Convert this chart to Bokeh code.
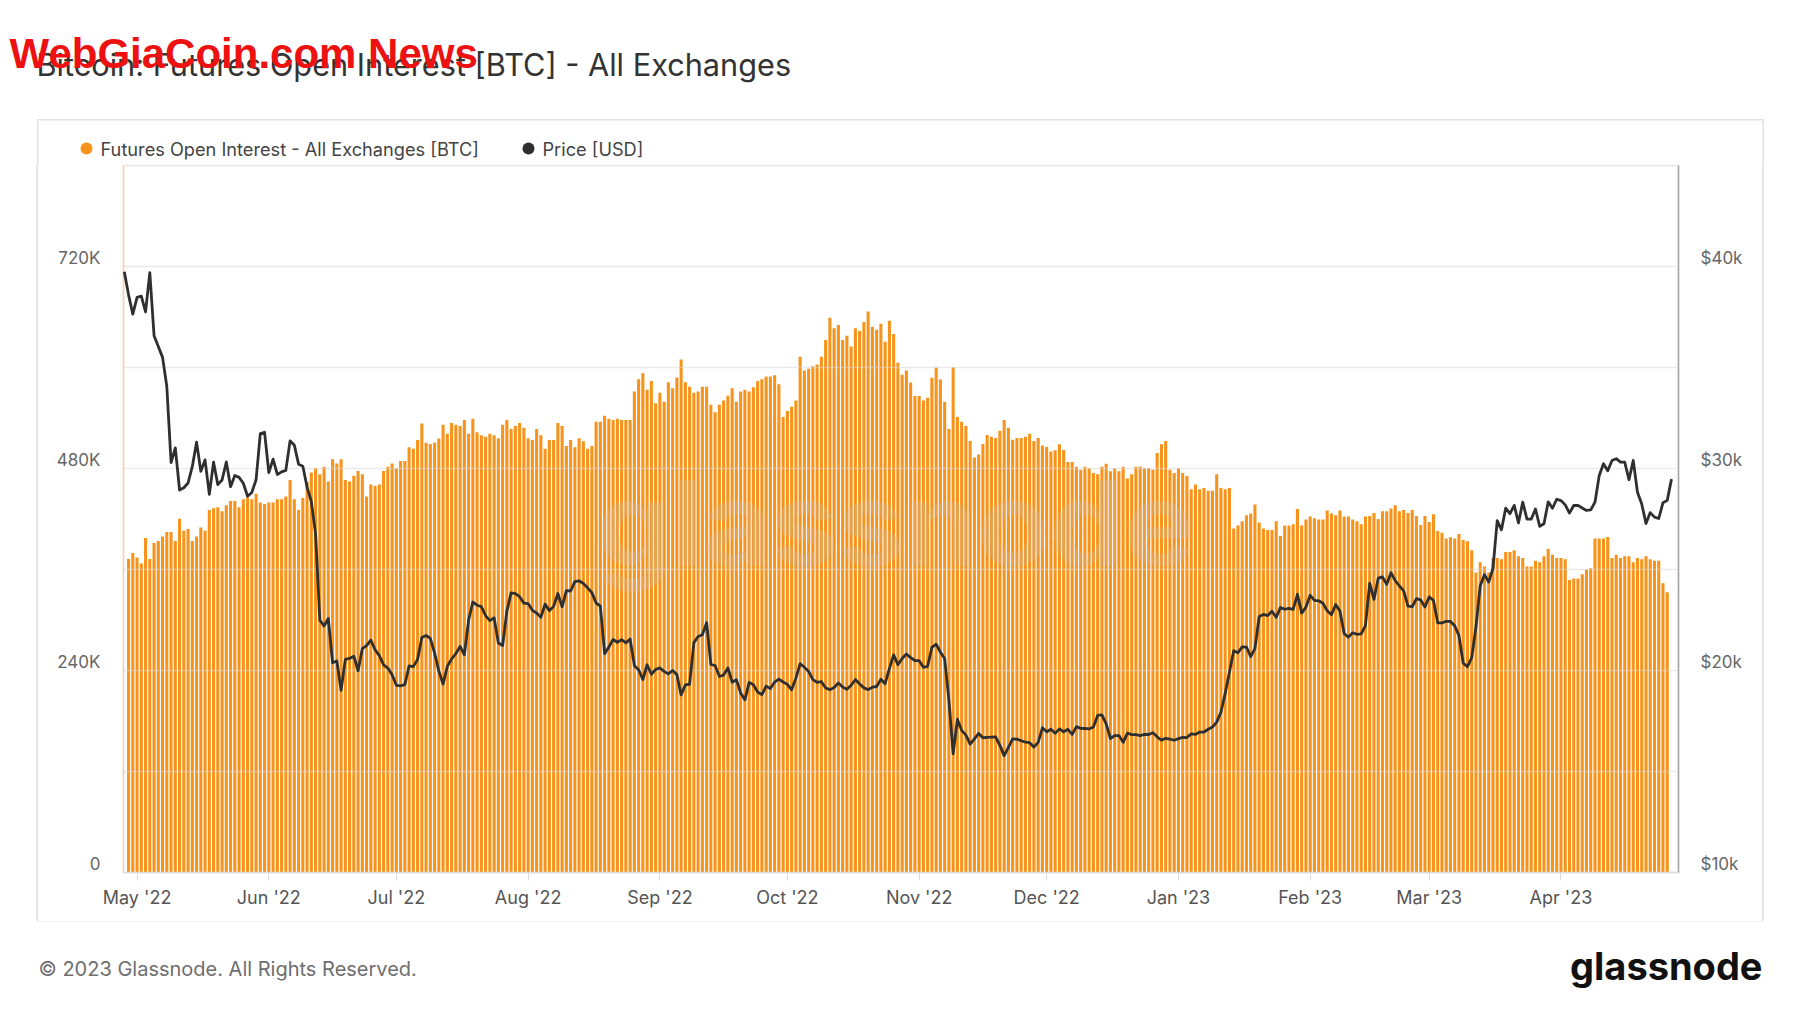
import numpy as np
import pandas as pd
from bokeh.plotting import figure
from bokeh.layouts import column, row
from bokeh.models import (Range1d, LinearAxis, FixedTicker, DatetimeTickFormatter,
                          Label, Grid, ColumnDataSource, Spacer)
from bokeh.core.properties import value
from bokeh.embed import file_html
from bokeh.resources import INLINE

# ---------------- texts ----------------
TITLE = "Bitcoin: Futures Open Interest [BTC] - All Exchanges"
WATERMARK = "WebGiaCoin.com News"
SERIES_OI = "Futures Open Interest - All Exchanges [BTC]"
SERIES_PRICE = "Price [USD]"
FOOTER = "\u00a9 2023 Glassnode. All Rights Reserved."
BRAND = "glassnode"

# ---------------- data ----------------
price_start = "2022-04-28"   # daily, USD
price_usd = [
    39742, 38596, 37644,
    38469, 38529, 37750, 39698, 36576, 36040, 35501, 34059, 30296, 31022,
    28936, 29047, 29283, 30101, 31305, 29862, 30425, 28720, 30314, 29200,
    29432, 30323, 29098, 29655, 29562, 29267, 28627, 28814, 29445, 31726, 31792,
    29799, 30467, 29704, 29832, 29906, 31370, 31155, 30214, 30112, 29083,
    28360, 26762, 22487, 22206, 22572, 20381, 20471, 19017, 20553, 20599,
    20710, 19988, 21086, 21231, 21502, 21028, 20736, 20281, 20123, 19785,
    19269, 19243, 19297, 20232, 20190, 20549, 21637, 21731, 21592, 20860,
    19970, 19323, 20212, 20569, 20836, 21190, 20779, 22485, 23389, 23231,
    23164, 22714, 22465, 22609, 21361, 21239, 22930, 23843, 23804, 23656, 23336,
    23314, 22978, 22846, 22630, 23289, 22961, 23175, 23810, 23149, 23954,
    23935, 24403, 24441, 24305, 24094, 23854, 23342, 23191, 20834, 21166,
    21534, 21398, 21529, 21368, 21560, 20241, 20037, 19555, 20285, 19812, 20050,
    20131, 19951, 19832, 20000, 19796, 18790, 19293, 19319, 21381, 21680,
    21769, 22371, 20297, 20242, 19702, 19773, 20127, 19420, 19544, 18891,
    18547, 19413, 19297, 18937, 18803, 19222, 19110, 19426, 19573, 19431,
    19312, 19044, 19623, 20336, 20160, 19955, 19546, 19416, 19446, 19141,
    19051, 19157, 19382, 19185, 19067, 19268, 19550, 19334, 19139, 19053,
    19172, 19208, 19567, 19345, 20095, 20771, 20285, 20595, 20818, 20635, 20495,
    20485, 20159, 20209, 21148, 21300, 20906, 20592, 18541, 15880, 17587,
    17034, 16800, 16354, 16618, 16884, 16670, 16688, 16698, 16712, 16292,
    15787, 16190, 16611, 16603, 16522, 16458, 16428, 16213, 16443, 17164,
    16970, 17095, 16889, 17111, 16968, 17089, 16837, 17221, 17134, 17129,
    17105, 17207, 17775, 17804, 17357, 16633, 16780, 16779, 16444, 16896,
    16825, 16822, 16779, 16833, 16832, 16919, 16717, 16552, 16642, 16603, 16547,
    16625, 16688, 16680, 16863, 16836, 16951, 16955, 17091, 17197, 17446,
    17934, 18869, 19910, 20976, 20880, 21170, 21161, 20688, 21086, 22676,
    22777, 22720, 22934, 22636, 23117, 23032, 23078, 23031, 23774, 22840, 23139,
    23724, 23471, 23449, 23332, 22955, 22760, 23264, 22939, 21819, 21651,
    21870, 21788, 21809, 22220, 24327, 23517, 24569, 24632, 24272, 24842,
    24452, 24183, 23940, 23185, 23157, 23554, 23492, 23148,
    23646, 23475, 22362, 22354, 22435, 22429, 22219, 21718, 20363, 20187,
    20633, 22163, 24198, 24746, 24376, 25052, 27423, 26965, 28038, 27768,
    28176, 27307, 28333, 27493, 27494, 27994, 27139, 27268, 28348, 28033, 28478,
    28411, 28199, 27790, 28168, 28177, 28044, 27925, 27948, 28333, 29653,
    30235, 29891, 30399, 30485, 30318, 30315, 29445, 30397, 28823, 28245,
    27276, 27817, 27591, 27525, 28307, 28422, 29473,
]

oi_start = "2022-04-29"      # daily, thousand BTC
open_interest_k = [
    372.6, 379.7, 374.2, 367.1, 397.4, 372.6, 391.5, 393.8, 399.3, 404.5,
    404.5, 393.8, 420.2, 406.0, 408.0, 393.8, 399.3, 410.0, 406.0, 430.8,
    432.8, 434.0, 429.2, 436.3, 441.4, 441.4, 434.0, 443.4, 445.4, 443.4,
    450.1, 439.5, 437.9, 439.5, 439.5, 443.4, 443.4, 446.6, 466.2, 443.4,
    430.8, 445.0, 464.3, 475.3, 480.4, 473.3, 482.0, 464.7, 491.0, 485.9,
    491.0, 466.2, 464.7, 471.3, 476.9, 473.3, 446.6, 461.1, 459.1, 461.1,
    476.9, 482.0, 485.9, 480.4, 489.0, 489.0, 505.2, 503.6, 513.8, 533.5,
    510.7, 509.1, 510.7,
    515.6, 532.0, 521.2, 534.0, 532.0, 530.4, 537.6, 521.2, 539.2, 523.2,
    519.6, 517.6, 521.2, 519.6, 516.0, 532.0, 537.6, 526.8, 530.4, 534.0,
    528.4, 516.0, 514.0, 526.8, 519.6, 503.6, 514.0, 514.0, 534.0, 530.4,
    506.8, 514.0, 505.2, 516.0, 512.4, 503.6, 506.8, 535.6, 535.6, 542.8,
    539.2, 537.6, 539.2, 537.6, 537.6, 537.6, 571.6, 586.0, 593.2, 573.6,
    584.0, 557.6, 570.0, 559.2, 582.4, 575.2, 588.0, 609.6, 582.4, 577.2,
    570.0, 571.6, 577.2, 577.2, 555.6, 546.8, 555.6, 560.8, 566.4, 575.2,
    559.2, 571.6, 573.6,
    571.4, 576.6, 584.1, 586.1, 589.3, 589.3, 590.9, 580.1, 541.2, 548.3,
    553.5, 560.7, 612.7, 596.4, 598.4, 601.6, 603.6, 612.7, 632.6, 659.2,
    646.5, 650.5, 632.6, 637.8, 625.0, 646.5, 643.3, 654.0, 666.4, 648.5,
    644.9, 652.1, 630.6, 655.6, 639.7, 605.6, 591.3, 596.4, 582.1, 566.2,
    566.2, 560.7, 564.2, 587.7, 600.0, 585.7, 559.1, 526.9, 600.4, 541.2,
    535.6, 530.5, 512.6, 493.1, 496.7, 509.0, 519.7, 517.7, 516.1, 524.9,
    537.6, 528.5, 514.2, 516.1, 516.1, 517.7, 521.3, 512.6, 516.1, 507.4,
    505.4, 500.3, 501.8,
    508.7, 501.9, 487.6, 487.6, 482.0, 478.4, 482.0, 480.4, 474.8, 473.2,
    482.0, 485.6, 476.8, 480.4, 476.8, 482.0, 468.0, 473.2, 482.0, 482.0,
    480.4, 480.4, 478.4, 498.3, 508.7, 512.7, 478.4, 474.8, 480.4, 474.8,
    471.2, 455.3, 460.9, 455.3, 456.9, 453.7, 453.7, 473.2, 456.9, 455.3,
    456.9, 408.6, 412.2, 417.4, 424.6, 426.6, 437.3, 415.8, 408.6, 407.0,
    407.0, 417.4, 399.9, 412.2, 412.2, 413.8, 431.8, 412.2, 419.4, 423.0,
    421.0, 419.4, 419.4, 430.2, 426.6, 424.6, 430.2, 423.0, 423.0, 419.4,
    417.4, 413.8, 423.0,
    423.6, 427.1, 420.0, 429.1, 429.1, 432.6, 436.2, 429.1, 430.7, 427.1,
    430.7, 423.6, 412.9, 423.6, 416.5, 425.5, 405.8, 403.8, 396.7, 398.3,
    396.7, 402.2, 395.1, 393.6, 382.9, 356.5, 368.7, 363.6, 356.5, 373.8,
    373.8, 372.2, 380.9, 380.9, 382.9, 375.8, 373.8, 363.6, 363.6, 370.3,
    368.7, 375.8, 384.5, 377.4, 373.8, 373.8, 372.2, 347.4, 349.4, 349.4,
    354.5, 360.0, 361.6, 396.7, 396.7, 396.7, 398.7, 373.8, 377.4, 373.8,
    375.8, 375.8, 368.7, 373.8, 372.2, 375.8, 372.2, 370.3, 370.3, 343.8,
    333.1,
]

month_ticks = ["2022-05-01", "2022-06-01", "2022-07-01", "2022-08-01", "2022-09-01",
               "2022-10-01", "2022-11-01", "2022-12-01", "2023-01-01", "2023-02-01",
               "2023-03-01", "2023-04-01"]
oi_ticks = [0, 240000, 480000, 720000]
oi_tick_labels = ["0", "240K", "480K", "720K"]
grid_ticks = [0, 120000, 240000, 360000, 480000, 600000, 720000]
price_ticks = [10000, 20000, 30000, 40000]
price_tick_labels = ["$10k", "$20k", "$30k", "$40k"]

# ---------------- geometry (page px) ----------------
PAGE_W, PAGE_H = 1784, 997
BOX_L, BOX_R, BOX_T, BOX_B = 38, 1762, 120, 921
HEAD_B = 164
FRAME_L, FRAME_R, FRAME_T, FRAME_B = 123, 1678, 165, 872
DAY = 86400000.0
OI_MAX = 840000
P_MIN, P_MAX = 10000, 45000
LABEL_LIFT = 9
frame_h = FRAME_B - FRAME_T
FONT = "Inter"
BOX_COLOR = "#e2e2e2"


def ms(d):
    return pd.Timestamp(d).value / 1e6


def canvas(x0, x1, y0, y1):
    """A figure whose frame is its whole canvas, in page pixel coordinates."""
    f = figure(width=x1 - x0, height=y1 - y0, x_range=Range1d(x0, x1),
               y_range=Range1d(y1, y0), x_axis_location=None, y_axis_location=None,
               toolbar_location=None, output_backend="svg", min_border=0,
               outline_line_color=None, background_fill_color="white",
               border_fill_color="white", title=None)
    f.grid.visible = False
    return f


def txt(f, s, x, y, size, color, align="left", font=FONT, style="normal"):
    f.text(x=[x], y=[y], text=[s], text_align=align, text_baseline="middle",
           text_font=value(font), text_font_style=style,
           text_font_size=value(size), text_color=color)


# ---------------- header (title, watermark, legend, top of box) ----------------
header = canvas(0, PAGE_W, 0, HEAD_B)
header.segment(x0=[BOX_L - 1.5, BOX_L - 0.75, BOX_R + 0.75],
               y0=[BOX_T - 0.75, BOX_T - 1.5, BOX_T - 1.5],
               x1=[BOX_R + 1.5, BOX_L - 0.75, BOX_R + 0.75],
               y1=[BOX_T - 0.75, HEAD_B + 1, HEAD_B + 1],
               line_color=BOX_COLOR, line_width=1.5)
txt(header, TITLE, 36, 64, "30.7px", "#333333")
txt(header, WATERMARK, 9, 53, "42px", "#ee1111", font="Liberation Sans", style="bold")
header.scatter(x=[86, 528], y=[148, 148], size=12, marker="circle",
               fill_color=["#f7931a", "#2f2f2f"], line_color=None)
txt(header, SERIES_OI, 100, 148, "18.2px", "#444444")
txt(header, SERIES_PRICE, 542, 148, "18.2px", "#444444")

# ---------------- main chart ----------------
price_dates = pd.date_range(price_start, periods=len(price_usd), freq="D")
oi_dates = pd.date_range(oi_start, periods=len(open_interest_k), freq="D")
x0 = ms(price_dates[0]) - 0.19 * DAY
x1 = ms(price_dates[-1]) + 1.65 * DAY

mw, mh = BOX_R - BOX_L, BOX_B - HEAD_B
p = figure(width=mw, height=mh, x_axis_type="datetime",
           x_range=Range1d(x0, x1), y_range=Range1d(0, OI_MAX),
           y_axis_location=None, toolbar_location=None, output_backend="svg",
           title=None,
           min_border_left=FRAME_L - BOX_L, min_border_right=BOX_R - FRAME_R,
           min_border_top=FRAME_T - HEAD_B, min_border_bottom=BOX_B - FRAME_B,
           background_fill_color="white", border_fill_color="white",
           outline_line_color="#e4e4e4", outline_line_width=1.5)

oi_off = LABEL_LIFT / frame_h * OI_MAX
pr_off = LABEL_LIFT / frame_h * (P_MAX - P_MIN)
p.extra_y_ranges = {
    "price": Range1d(P_MIN, P_MAX),
    "oi_lab": Range1d(-oi_off, OI_MAX - oi_off),
    "price_lab": Range1d(P_MIN - pr_off, P_MAX - pr_off),
}
p.grid.visible = False

src = ColumnDataSource(dict(x=oi_dates, top=np.array(open_interest_k) * 1000.0))
p.vbar(x="x", top="top", width=0.72 * DAY, bottom=0, source=src,
       fill_color="#f7931a", line_color=None)

grid = Grid(dimension=1, ticker=FixedTicker(ticks=grid_ticks),
            grid_line_color="#d6d6d6", grid_line_width=1.5, grid_line_alpha=0.5)
grid.level = "guide"
p.add_layout(grid)

p.add_layout(Label(x=895 - FRAME_L, y=FRAME_B - 522, x_units="screen", y_units="screen",
                   text=BRAND, text_align="center", text_baseline="middle",
                   text_font=FONT, text_font_style="bold", text_font_size="118px",
                   text_color="#c4c4c4", text_alpha=0.25))

line = p.line(price_dates, price_usd, y_range_name="price",
              line_color="#2f2f2f", line_width=2.8, line_join="round")
line.level = "overlay"

xa = p.xaxis[0]
xa.ticker = FixedTicker(ticks=[ms(d) for d in month_ticks])
xa.formatter = DatetimeTickFormatter(days="%b '%y", months="%b '%y", years="%b '%y")
xa.axis_line_color = "#dcdcdc"
xa.axis_line_width = 1.5
xa.major_tick_line_color = "#dcdcdc"
xa.major_tick_out = 8
xa.major_tick_in = 0
xa.minor_tick_line_color = None
xa.major_label_standoff = 6
xa.major_label_text_font = FONT
xa.major_label_text_font_size = "18px"
xa.major_label_text_color = "#555555"

la = LinearAxis(y_range_name="oi_lab", ticker=FixedTicker(ticks=oi_ticks),
                major_label_overrides={t: s for t, s in zip(oi_ticks, oi_tick_labels)},
                axis_line_color="#fcd2a4", axis_line_width=1.5,
                major_tick_line_color=None, minor_tick_line_color=None,
                major_label_standoff=17, major_label_text_font=FONT,
                major_label_text_font_size="17px", major_label_text_color="#666666")
p.add_layout(la, "left")

ra = LinearAxis(y_range_name="price_lab", ticker=FixedTicker(ticks=price_ticks),
                major_label_overrides={t: s for t, s in zip(price_ticks, price_tick_labels)},
                axis_line_color="#a3a3a3", axis_line_width=1.5,
                major_tick_line_color=None, minor_tick_line_color=None,
                major_label_standoff=16, major_label_text_font=FONT,
                major_label_text_font_size="17px", major_label_text_color="#666666")
p.add_layout(ra, "right")

# ---------------- footer ----------------
footer = canvas(0, PAGE_W, BOX_B, PAGE_H)
txt(footer, FOOTER, 38, 968, "20px", "#6e6e6e")
txt(footer, BRAND, 1762, 965, "38px", "#111111", align="right", style="bold")

shadow = (f"-1.5px 0 0 0 {BOX_COLOR}, 1.5px 0 0 0 {BOX_COLOR}, "
          f"0 1.5px 0 0 {BOX_COLOR}, -1.5px 1.5px 0 0 {BOX_COLOR}, 1.5px 1.5px 0 0 {BOX_COLOR}")
box = column(p, spacing=0, styles={"box-shadow": shadow})
layout = column(header, row(Spacer(width=BOX_L, height=10), box, spacing=0), footer, spacing=0)

open("out.html", "w").write(file_html(layout, INLINE))
